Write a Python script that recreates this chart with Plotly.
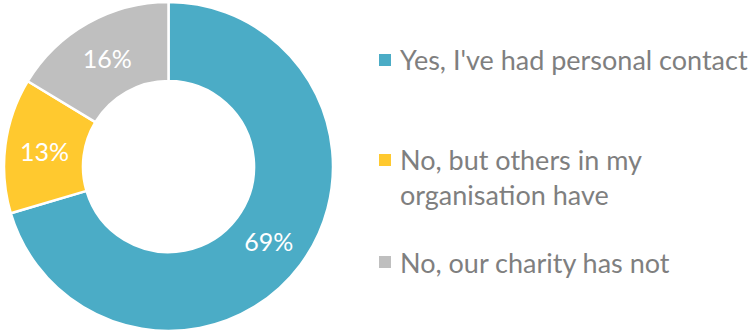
import plotly.graph_objects as go

W, H = 751, 333

# Survey responses (percent of respondents)
labels = ["Yes, I've had personal contact",
          "No, but others in my<br>organisation have",
          "No, our charity has not"]
values = [69, 13, 16]
colors = ["#4BACC6", "#FFC92F", "#BFBFBF"]

FONT = "Lato, 'Open Sans', sans-serif"
TEXT_GREY = "#7F7F7F"

fig = go.Figure(go.Pie(
    labels=labels,
    values=values,
    hole=0.52,
    sort=False,
    direction="clockwise",
    rotation=0,
    marker=dict(colors=colors, line=dict(color="white", width=2.5)),
    texttemplate="%{value}%",
    textposition="inside",
    insidetextorientation="horizontal",
    textfont=dict(family=FONT, size=25, color="white"),
    showlegend=False,
    hoverinfo="label+value",
    domain=dict(x=[4 / W, 333 / W], y=[1 / H, 332 / H]),
))

# Hand-placed legend: square swatch + wrapped label
legend_y = [60, 177, 262]  # vertical centre of each entry, px from top
swatch = 12
for lab, col, yc in zip(labels, colors, legend_y):
    sq_y = yc if "<br>" not in lab else yc - 17
    fig.add_shape(type="rect", xref="paper", yref="paper",
                  x0=379 / W, x1=(379 + swatch) / W,
                  y0=1 - (sq_y + swatch / 2) / H, y1=1 - (sq_y - swatch / 2) / H,
                  fillcolor=col, line=dict(width=0))
    fig.add_annotation(x=398 / W, y=1 - yc / H, xref="paper", yref="paper",
                       text=lab, showarrow=False, xanchor="left", yanchor="middle",
                       align="left",
                       font=dict(family=FONT, size=27, color=TEXT_GREY))

fig.update_layout(
    width=W, height=H,
    margin=dict(l=0, r=0, t=0, b=0),
    paper_bgcolor="white",
    plot_bgcolor="white",
)

fig.write_html("out.html")
